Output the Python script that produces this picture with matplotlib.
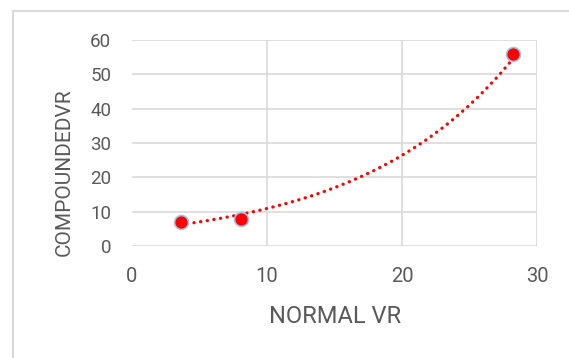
import matplotlib.pyplot as plt
import numpy as np
from matplotlib.patches import Rectangle

plt.close('all')

# Measured values
normal_vr = [3.6, 8.1, 28.2]
compounded_vr = [7.0, 8.0, 56.0]

x_ticks = [0, 10, 20, 30]
y_ticks = [0, 10, 20, 30, 40, 50, 60]

text_color = '#595959'
grid_color = '#d9d9d9'

plt.rcParams['font.family'] = ['Roboto', 'DejaVu Sans']

fig = plt.figure(figsize=(5.69, 3.58), dpi=100)
ax = fig.add_axes([0.232, 0.3128, 0.712, 0.5752])

# chart area border (runs off the right and bottom edges)
fig.patches.append(Rectangle((13 / 569, -0.05), 1.0, 1 - 11 / 358 + 0.05,
                             transform=fig.transFigure, fill=False,
                             edgecolor='#d9d9d9', linewidth=1.5))

# exponential trendline fitted on ln(y)
b, a = np.polyfit(normal_vr, np.log(compounded_vr), 1)
xs = np.linspace(min(normal_vr), max(normal_vr), 200)
ax.plot(xs, np.exp(a + b * xs), color='red', linewidth=2.3,
        linestyle=(0, (0.1, 2.0)), dash_capstyle='round', zorder=3)

ax.plot(normal_vr, compounded_vr, linestyle='none', marker='o', markersize=10,
        markerfacecolor='red', markeredgecolor='#9dc3e6', markeredgewidth=1.2,
        zorder=4)

ax.set_xlim(0, 30)
ax.set_ylim(0, 60)
ax.set_xticks(x_ticks)
ax.set_yticks(y_ticks)
ax.tick_params(axis='both', length=0, colors=text_color)
ax.tick_params(axis='x', labelsize=14.5, pad=15)
ax.tick_params(axis='y', labelsize=13.5, pad=15)

for s in ax.spines.values():
    s.set_visible(False)
ax.grid(True, color=grid_color, linewidth=1.2)
ax.set_axisbelow(True)
ax.xaxis.get_gridlines()[0].set_visible(False)

ax.set_xlabel('NORMAL VR', fontsize=17, color=text_color)
ax.xaxis.set_label_coords(0.501, -0.286)
ax.set_ylabel('COMPOUNDEDVR', fontsize=15, color=text_color, va='center')
ax.yaxis.set_label_coords(-0.168, 0.36)

fig.savefig('out.png', dpi=100)
